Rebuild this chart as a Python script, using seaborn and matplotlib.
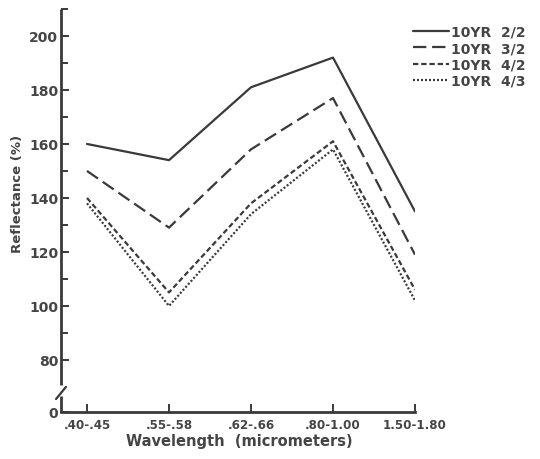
import matplotlib
matplotlib.use("Agg")
import matplotlib.pyplot as plt
import seaborn as sns
import pandas as pd

wavelengths = [".40-.45", ".55-.58", ".62-.66", ".80-1.00", "1.50-1.80"]
soil_2_2 = [160, 154, 181, 192, 135]
soil_3_2 = [150, 129, 158, 177, 119]
soil_4_2 = [140, 105, 138, 161, 106]
soil_4_3 = [138, 100, 134, 158, 102]
series_names = ["10YR  2/2", "10YR  3/2", "10YR  4/2", "10YR  4/3"]
y_ticks = [80, 100, 120, 140, 160, 180, 200]

rows = []
for name, vals in zip(series_names, [soil_2_2, soil_3_2, soil_4_2, soil_4_3]):
    for i, v in enumerate(vals):
        rows.append({"pos": i, "wl": wavelengths[i], "Series": name, "Reflectance": v})
df = pd.DataFrame(rows)

sns.set_theme(style="ticks")
plt.rcParams["font.family"] = ["DejaVu Sans"]
ink = "#3a3a3a"
txt = "#454545"

fig = plt.figure(figsize=(5.4, 4.6), dpi=100)
ax = fig.add_axes([61 / 540, 1 - 413 / 460, (415 - 61) / 540, (413 - 10) / 460])

dash_map = {
    series_names[0]: "",
    series_names[1]: (6, 2.6),
    series_names[2]: (2.4, 1.3),
    series_names[3]: (0.9, 0.9),
}
sns.lineplot(data=df, x="pos", y="Reflectance", hue="Series", style="Series",
             palette=[ink] * 4, dashes=dash_map, linewidth=1.6, ax=ax,
             legend=True, sort=False)

y_bottom = 60.7
ax.set_xlim(-0.317, 4)
ax.set_ylim(y_bottom, 210)

ax.set_xticks(range(len(wavelengths)))
ax.set_xticklabels(wavelengths, fontsize=8.6, fontweight="bold", color=txt)
ax.set_yticks([y_bottom] + y_ticks)
ax.set_yticklabels(["0"] + [str(t) for t in y_ticks], fontsize=10,
                   fontweight="bold", color=txt)
ax.set_yticks([90, 110, 130, 150, 170, 190, 210], minor=True)
ax.tick_params(axis="y", which="major", direction="in", length=6, width=1.4,
               color=ink, pad=2)
ax.tick_params(axis="y", which="minor", direction="in", length=5, width=1.4,
               color=ink)
ax.tick_params(axis="x", direction="in", length=6, width=1.4, color=ink, pad=4)

ax.set_xlabel("Wavelength  (micrometers)", fontsize=10.5, fontweight="bold",
              color=txt)
ax.set_ylabel("Reflectance (%)", fontsize=9.5, fontweight="bold", color=txt)
ax.yaxis.set_label_coords(-0.105, 0.543)
ax.xaxis.set_label_coords(0.505, -0.052)

for side in ["top", "right", "left"]:
    ax.spines[side].set_visible(False)
ax.spines["bottom"].set_color(ink)
ax.spines["bottom"].set_linewidth(2)

# broken left axis
ytr = ax.get_yaxis_transform()
ax.plot([0, 0], [70.7, 210], color=ink, lw=2, transform=ytr, clip_on=False,
        solid_capstyle="butt")
ax.plot([0, 0], [y_bottom, 66.5], color=ink, lw=2, transform=ytr,
        clip_on=False, solid_capstyle="butt")
ax.plot([-0.014, 0.014], [65.5, 70.0], color=ink, lw=1.6, transform=ytr,
        clip_on=False)

handles, labels = ax.get_legend_handles_labels()
ax.get_legend().remove()
leg = fig.legend(handles, labels, loc="upper left",
                 bbox_to_anchor=(413 / 540, 1 - 26 / 460), frameon=False,
                 borderpad=0, borderaxespad=0,
                 handlelength=2.6, handletextpad=0.15, labelspacing=0.16,
                 prop={"family": "DejaVu Sans", "weight": "bold", "size": 10})
for t in leg.get_texts():
    t.set_color(txt)

fig.savefig("out.png", dpi=100)
